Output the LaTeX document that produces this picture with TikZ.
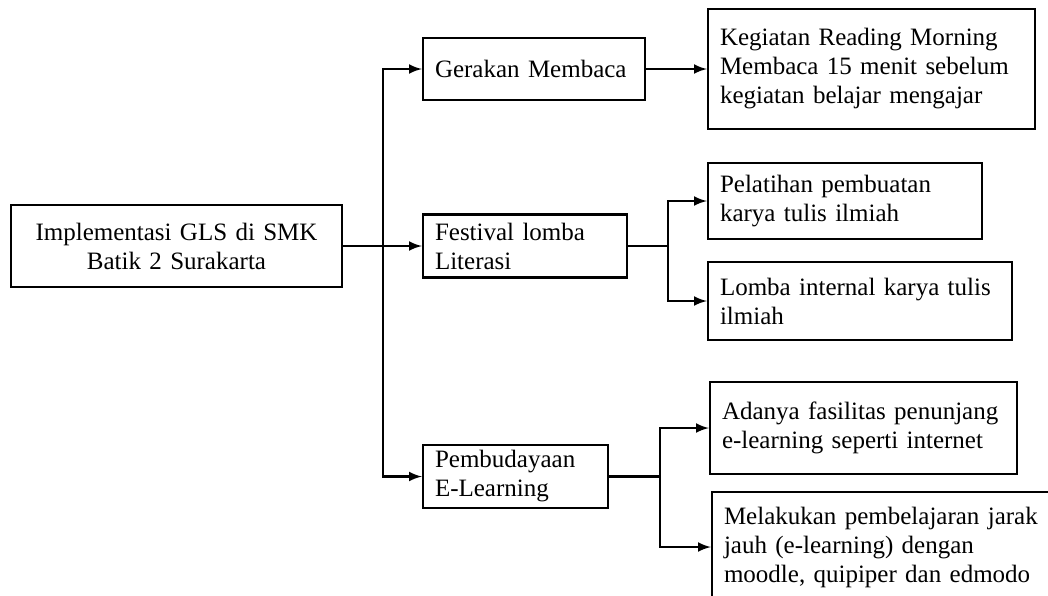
\documentclass[tikz,border=0pt]{standalone}
\usepackage{fontspec}
\setmainfont{Liberation Serif}
\hyphenpenalty=10000
\tikzset{
	kotak/.style={draw,line width=1.2pt,rectangle,inner xsep=6pt,inner ysep=2pt,font=\fontsize{12.5}{14.5}\selectfont},
	kiri/.style={kotak,align=left}
}
\begin{document}
\begin{tikzpicture}[x=0.5pt,y=-0.5pt]
			\useasboundingbox (0,0) rectangle (1048,595);
			\clip (0,0) rectangle (1048,595);

			\node[kotak,align=center,text width=153.5pt,minimum height=41pt] (root) at (176.5,246) {Implementasi GLS di SMK\\Batik 2 Surakarta};

			\node[kiri,text width=99pt,minimum height=31pt] (gerakan) at (534,69) {Gerakan Membaca};
			\node[kiri,text width=90pt,minimum height=31.5pt] (festival) at (525,246) {Festival lomba\\Literasi};
			\node[kiri,text width=80.5pt,minimum height=31.5pt] (budaya) at (515.5,476.5) {Pembudayaan\\E-Learning};

			\node[kiri,text width=151.5pt,minimum height=60pt] (reading) at (871.5,69) {Kegiatan Reading Morning\\Membaca 15 menit sebelum\\kegiatan belajar mengajar};
			\node[kiri,text width=125pt,minimum height=38pt] (pelatihan) at (845,201) {Pelatihan pembuatan\\karya tulis ilmiah};
			\node[kiri,text width=140pt,minimum height=39pt] (lomba) at (860,301) {Lomba internal karya tulis\\ilmiah};
			\node[kiri,text width=141.5pt,minimum height=46pt] (fasilitas) at (863.5,428) {Adanya fasilitas penunjang\\e-learning seperti internet};
			\node[kiri,text width=161pt,minimum height=55pt] (daring) at (885,547) {Melakukan pembelajaran jarak\\jauh (e-learning) dengan\\moodle, quipiper dan edmodo};

			\coordinate (T) at (383,246);
			\coordinate (F) at (668,246);
			\coordinate (P) at (660,476.5);

			\begin{scope}[line width=1.2pt]
			    \draw (festival.east) -- (F);
			    \draw (budaya.east) -- (P);
			\end{scope}
			\begin{scope}[->,>=latex,line width=1.2pt]
			    \draw (root.east) -- (festival.west);
			    \draw (T) |- (gerakan.west);
			    \draw (T) |- (budaya.west);
			    \draw (gerakan.east) -- (reading.west);
			    \draw (F) |- (pelatihan.west);
			    \draw (F) |- (lomba.west);
			    \draw (P) |- (fasilitas.west);
			    \draw (P) |- (daring.west);
			\end{scope}
		    \end{tikzpicture}
\end{document}
